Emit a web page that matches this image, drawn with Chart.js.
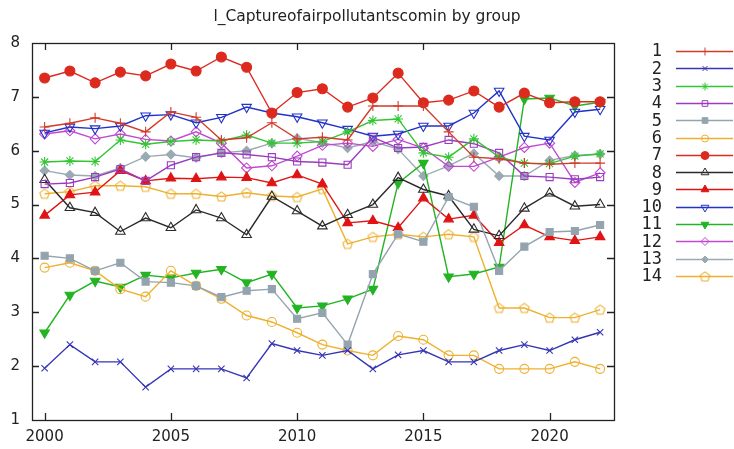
<!DOCTYPE html>
<html>
<head>
<meta charset="utf-8">
<script src="https://cdn.jsdelivr.net/npm/chart.js@4/dist/chart.umd.min.js"></script>
<style>
  html, body { margin: 0; padding: 0; background: #fff; }
  #wrap { width: 734px; height: 449px; }
</style>
</head>
<body>
<div id="wrap"><canvas id="c" width="734" height="449"></canvas></div>
<script>
// Years on the x axis
const years = [2000, 2001, 2002, 2003, 2004, 2005, 2006, 2007, 2008, 2009, 2010, 2011,
               2012, 2013, 2014, 2015, 2016, 2017, 2018, 2019, 2020, 2021, 2022];
const xTicks = [2000, 2005, 2010, 2015, 2020];
const groupNames = ['1', '2', '3', '4', '5', '6', '7', '8', '9', '10', '11', '12', '13', '14'];
const chartTitle = 'l_Captureofairpollutantscomin by group';

// Values per group
const g1  = [6.44, 6.51, 6.61, 6.51, 6.35, 6.72, 6.62, 6.20, 6.24, 6.52, 6.22, 6.25, 6.20, 6.83, 6.83, 6.83, 6.35, 5.88, 5.85, 5.77, 5.75, 5.77, 5.77];
const g2  = [1.96, 2.40, 2.08, 2.08, 1.61, 1.95, 1.95, 1.95, 1.78, 2.42, 2.29, 2.20, 2.29, 1.95, 2.21, 2.29, 2.08, 2.08, 2.29, 2.40, 2.29, 2.49, 2.63];
const g3  = [5.79, 5.81, 5.80, 6.20, 6.12, 6.17, 6.20, 6.18, 6.29, 6.14, 6.14, 6.17, 6.35, 6.56, 6.59, 5.96, 5.88, 6.22, 5.88, 5.77, 5.76, 5.90, 5.94];
const g4  = [5.38, 5.40, 5.51, 5.66, 5.44, 5.73, 5.88, 5.96, 5.93, 5.88, 5.80, 5.78, 5.74, 6.25, 6.05, 6.07, 6.20, 6.13, 5.96, 5.53, 5.51, 5.47, 5.51];
const g5  = [4.05, 4.00, 3.77, 3.92, 3.57, 3.55, 3.49, 3.28, 3.40, 3.43, 2.88, 2.99, 2.40, 3.71, 4.45, 4.31, 5.14, 4.96, 3.77, 4.22, 4.49, 4.51, 4.62];
const g6  = [3.83, 3.92, 3.77, 3.43, 3.29, 3.77, 3.49, 3.25, 2.94, 2.82, 2.62, 2.40, 2.29, 2.20, 2.56, 2.49, 2.20, 2.20, 1.95, 1.95, 1.95, 2.08, 1.95];
const g7  = [7.35, 7.48, 7.26, 7.46, 7.39, 7.61, 7.48, 7.74, 7.55, 6.70, 7.08, 7.15, 6.81, 6.98, 7.44, 6.89, 6.94, 7.11, 6.81, 7.07, 6.89, 6.91, 6.91];
const g8  = [5.46, 4.94, 4.85, 4.50, 4.75, 4.57, 4.90, 4.75, 4.44, 5.15, 4.88, 4.60, 4.81, 5.00, 5.50, 5.28, 5.16, 4.54, 4.42, 4.93, 5.21, 4.97, 5.00];
const g9  = [4.80, 5.18, 5.23, 5.63, 5.44, 5.49, 5.48, 5.51, 5.50, 5.40, 5.55, 5.38, 4.66, 4.70, 4.57, 5.12, 4.73, 4.80, 4.29, 4.62, 4.40, 4.33, 4.40];
const g10 = [6.33, 6.44, 6.41, 6.46, 6.65, 6.67, 6.52, 6.62, 6.81, 6.70, 6.63, 6.52, 6.40, 6.27, 6.31, 6.46, 6.46, 6.70, 7.11, 6.27, 6.20, 6.72, 6.77];
const g11 = [2.62, 3.32, 3.58, 3.47, 3.69, 3.64, 3.73, 3.80, 3.55, 3.71, 3.08, 3.12, 3.25, 3.43, 5.40, 5.77, 3.66, 3.71, 3.84, 6.96, 6.98, 6.83, 6.90];
const g12 = [6.31, 6.37, 6.22, 6.31, 6.21, 6.18, 6.35, 6.14, 5.68, 5.72, 5.90, 6.10, 6.14, 6.08, 6.21, 6.05, 5.71, 5.71, 5.88, 6.06, 6.14, 5.41, 5.59];
const g13 = [5.63, 5.55, 5.53, 5.68, 5.89, 5.93, 5.87, 5.96, 6.00, 6.14, 6.23, 6.15, 6.05, 6.17, 6.03, 5.53, 5.72, 5.95, 5.53, 5.53, 5.82, 5.91, 5.94];
const g14 = [5.20, 5.24, 5.35, 5.35, 5.33, 5.20, 5.20, 5.15, 5.22, 5.16, 5.14, 5.29, 4.27, 4.40, 4.45, 4.40, 4.45, 4.40, 3.08, 3.08, 2.90, 2.90, 3.05];

const groups = [g1, g2, g3, g4, g5, g6, g7, g8, g9, g10, g11, g12, g13, g14];

// Open pentagon marker
function pentagon(color) {
  const c = document.createElement('canvas');
  c.width = 13; c.height = 13;
  const p = c.getContext('2d');
  p.strokeStyle = color; p.lineWidth = 1.1;
  p.beginPath();
  for (let k = 0; k < 5; k++) {
    const a = -Math.PI / 2 + k * 2 * Math.PI / 5;
    const px = 6.5 + 5 * Math.cos(a), py = 6.9 + 5 * Math.sin(a);
    k ? p.lineTo(px, py) : p.moveTo(px, py);
  }
  p.closePath(); p.stroke();
  return c;
}

const NONE = 'rgba(0,0,0,0)';
const looks = [
  { color: '#d23a2a', style: 'cross',    fill: false, r: 5 },
  { color: '#3535b5', style: 'crossRot', fill: false, r: 4.5 },
  { color: '#33c633', style: 'star',     fill: false, r: 5 },
  { color: '#9a3cbf', style: 'rect',     fill: false, r: 5 },
  { color: '#94a4ae', style: 'rect',     fill: true,  r: 5 },
  { color: '#efb02e', style: 'circle',   fill: false, r: 4.5 },
  { color: '#dc2a1e', style: 'circle',   fill: true,  r: 5 },
  { color: '#2a2a2a', style: 'triangle', fill: false, r: 5.5 },
  { color: '#e01414', style: 'triangle', fill: true,  r: 5.5 },
  { color: '#2233c8', style: 'triangle', fill: false, r: 5.5, rot: 180 },
  { color: '#22b422', style: 'triangle', fill: true,  r: 5.5, rot: 180 },
  { color: '#c04ad0', style: 'rectRot',  fill: false, r: 5 },
  { color: '#9aaab2', style: 'rectRot',  fill: true,  r: 4.5 },
  { color: '#eeb030', style: 'pent',     fill: false, r: 5 }
];

const datasets = groups.map((vals, i) => {
  const lk = looks[i];
  return {
    label: groupNames[i],
    data: years.map((yr, j) => ({ x: yr, y: vals[j] })),
    borderColor: lk.color,
    borderWidth: 1.4,
    pointStyle: lk.style === 'pent' ? pentagon(lk.color) : lk.style,
    pointRotation: lk.rot || 0,
    pointRadius: lk.r,
    pointBorderWidth: 1.1,
    pointBorderColor: lk.color,
    pointBackgroundColor: lk.fill ? lk.color : NONE,
    tension: 0,
    fill: false
  };
});

// Title, box frame with inward ticks, and the key on the right
const frameAndKey = {
  id: 'frameAndKey',
  beforeDatasetsDraw(chart) {
    const { ctx, chartArea: a, scales: { x, y } } = chart;
    ctx.save();
    ctx.strokeStyle = '#222';
    ctx.lineWidth = 1.3;
    ctx.strokeRect(a.left + 0.5, a.top + 0.5, a.right - a.left, a.bottom - a.top);
    const t = 7;
    ctx.beginPath();
    x.ticks.forEach(tk => {
      const px = Math.round(x.getPixelForValue(tk.value)) + 0.5;
      ctx.moveTo(px, a.bottom); ctx.lineTo(px, a.bottom - t);
      ctx.moveTo(px, a.top); ctx.lineTo(px, a.top + t);
    });
    y.ticks.forEach(tk => {
      if (tk.value === y.min || tk.value === y.max) return;
      const py = Math.round(y.getPixelForValue(tk.value)) + 0.5;
      ctx.moveTo(a.left, py); ctx.lineTo(a.left + t, py);
      ctx.moveTo(a.right, py); ctx.lineTo(a.right - t, py);
    });
    ctx.stroke();

    ctx.font = '15.5px "DejaVu Sans"';
    ctx.fillStyle = '#222';
    ctx.textAlign = 'center';
    ctx.textBaseline = 'middle';
    ctx.fillText(chartTitle, 367, 17);
    ctx.restore();
  },
  afterDraw(chart) {
    const { ctx } = chart;
    ctx.save();
    ctx.font = '17px "DejaVu Sans Mono"';
    ctx.textAlign = 'right';
    ctx.textBaseline = 'middle';
    chart.data.datasets.forEach((ds, i) => {
      const yy = 51 + i * 17.3;
      ctx.fillStyle = '#222';
      ctx.fillText(ds.label, 662, yy + 1);
      ctx.strokeStyle = ds.borderColor;
      ctx.lineWidth = 1.3;
      ctx.beginPath();
      ctx.moveTo(676, Math.round(yy) + 0.5);
      ctx.lineTo(733, Math.round(yy) + 0.5);
      ctx.stroke();
      ctx.fillStyle = ds.pointBackgroundColor;
      ctx.strokeStyle = ds.pointBorderColor;
      ctx.lineWidth = 1;
      Chart.helpers.drawPoint(ctx, {
        pointStyle: ds.pointStyle,
        rotation: ds.pointRotation,
        radius: Math.max(3.5, ds.pointRadius - 1),
        borderWidth: 1
      }, 705, Math.round(yy) + 0.5);
    });
    ctx.restore();
  }
};

new Chart(document.getElementById('c'), {
  type: 'line',
  data: { datasets },
  options: {
    responsive: false,
    animation: false,
    devicePixelRatio: 1,
    layout: { padding: { left: 0, right: 120, top: 43, bottom: 0 } },
    plugins: {
      legend: { display: false },
      tooltip: { enabled: false },
      title: { display: false }
    },
    scales: {
      x: {
        type: 'linear',
        min: 1999.5,
        max: 2022.55,
        grid: { display: false, drawTicks: false },
        border: { display: false },
        afterBuildTicks: s => { s.ticks = xTicks.map(v => ({ value: v })); },
        afterFit: s => { s.height = 29; },
        ticks: {
          color: '#222',
          padding: 8,
          maxRotation: 0,
          font: { family: 'DejaVu Sans', size: 15 },
          callback: v => String(v)
        }
      },
      y: {
        min: 1,
        max: 8,
        grid: { display: false, drawTicks: false },
        border: { display: false },
        afterFit: s => { s.width = 32; },
        ticks: {
          stepSize: 1,
          color: '#222',
          padding: 12,
          font: { family: 'DejaVu Sans', size: 15 }
        }
      }
    }
  },
  plugins: [frameAndKey]
});
</script>
</body>
</html>
